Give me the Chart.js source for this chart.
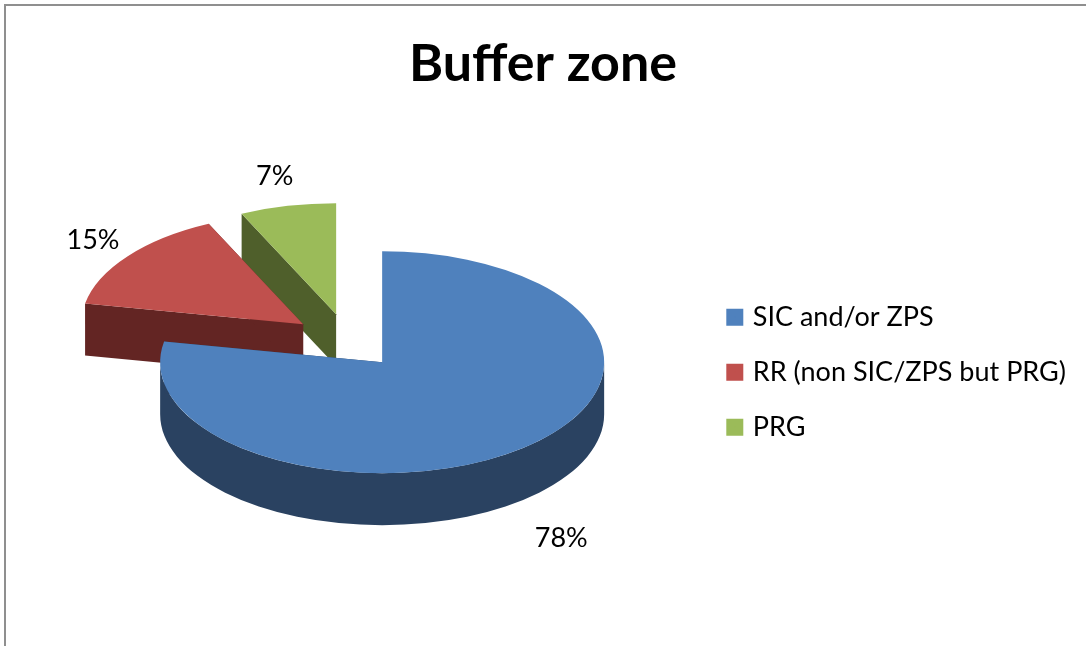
<!DOCTYPE html>
<html>
<head>
<meta charset="utf-8">
<title>Buffer zone</title>
<script src="https://cdn.jsdelivr.net/npm/chart.js@4/dist/chart.umd.js"></script>
<style>
  html, body { margin: 0; padding: 0; background: #fff; overflow: hidden; }
  #frame { position: absolute; left: 4px; top: 4px; right: 0; bottom: 0; border-left: 2px solid #8f8f8f; border-top: 2px solid #8f8f8f; }
  #pie { position: absolute; left: 0; top: 0; }
</style>
</head>
<body>
<div id="frame"></div>
<canvas id="pie" width="1086" height="646"></canvas>
<script>
const titleText = 'Buffer zone'
const sliceLabels = ['SIC and/or ZPS', 'RR (non SIC/ZPS but PRG)', 'PRG']
const sliceValues = [78, 15, 7]
const topColors = ['#4f81bd', '#c0504d', '#9bbb59']
const sideColors = ['#2a4261', '#632523', '#4f5f2b']

// 3d look: flatten the arcs and put dark walls under them, back slice first
const tiltedPie = {
    id: 'tiltedPie',
    beforeDatasetDraw(chart, args, opts) {
        const ctx = chart.ctx
        const arcs = chart.getDatasetMeta(0).data

        const drawWalls = (arc, i) => {
            const cx = arc.x + opts.nudgeX + opts.shiftX[i]
            const cy = arc.y + opts.nudgeY + opts.shiftY[i]
            const rx = arc.outerRadius
            const ry = rx * opts.ratio
            ctx.fillStyle = sideColors[i]

            // rim, only the front half (0..PI) can be seen
            const from = Math.max(arc.startAngle, 0)
            const to = Math.min(arc.endAngle, Math.PI)
            if (to > from) {
                ctx.beginPath()
                ctx.ellipse(cx, cy, rx, ry, 0, from, to)
                ctx.ellipse(cx, cy + opts.depth, rx, ry, 0, to, from, true)
                ctx.closePath()
                ctx.fill()
            }

            // the two cut faces
            ;[arc.startAngle, arc.endAngle].forEach(a => {
                const ex = cx + Math.cos(a) * rx
                const ey = cy + Math.sin(a) * ry
                ctx.beginPath()
                ctx.moveTo(cx, cy)
                ctx.lineTo(ex, ey)
                ctx.lineTo(ex, ey + opts.depth)
                ctx.lineTo(cx, cy + opts.depth)
                ctx.closePath()
                ctx.fill()
            })
        }

        for (let i = arcs.length - 1; i >= 0; i--) {
            const arc = arcs[i]
            drawWalls(arc, i)
            ctx.save()
            ctx.translate(opts.nudgeX + opts.shiftX[i], opts.shiftY[i] + opts.nudgeY + arc.y)
            ctx.scale(1, opts.ratio)
            ctx.translate(0, -arc.y)
            arc.draw(ctx)
            ctx.restore()
        }

        ctx.save()
        ctx.font = opts.labelFont
        ctx.fillStyle = '#000'
        ctx.textAlign = 'center'
        ctx.textBaseline = 'middle'
        arcs.forEach((arc, i) => {
            const mid = (arc.startAngle + arc.endAngle) / 2
            const x = arc.x + opts.nudgeX + opts.shiftX[i] + Math.cos(mid) * opts.labelDist[i]
            const y = arc.y + opts.nudgeY + opts.shiftY[i] + Math.sin(mid) * opts.labelDist[i] * opts.ratio + opts.labelDrop[i]
            ctx.fillText(sliceValues[i] + '%', x, y)
        })
        ctx.restore()
        return false
    }
}

new Chart(document.getElementById('pie'), {
    type: 'pie',
    data: {
        labels: sliceLabels,
        datasets: [{ data: sliceValues, backgroundColor: topColors, borderWidth: 0 }]
    },
    plugins: [tiltedPie],
    options: {
        responsive: false,
        animation: false,
        radius: 222,
        layout: { padding: { left: 10, right: 10, top: 0, bottom: 14 } },
        plugins: {
            title: {
                display: true,
                text: titleText,
                color: '#000',
                font: { family: 'Lato', size: 52, weight: 'bold' },
                padding: { top: 33, bottom: 17 }
            },
            tooltip: { enabled: false },
            legend: {
                position: 'right',
                fullSize: false,
                labels: {
                    color: '#000',
                    font: { family: 'Lato', size: 27 },
                    padding: 28,
                    boxWidth: 9,
                    boxHeight: 9,
                    // thick stroke gets the swatch closer to its text than the default gap
                    generateLabels: () => sliceLabels.map((text, i) => ({
                        text,
                        index: i,
                        fillStyle: topColors[i],
                        strokeStyle: topColors[i],
                        lineWidth: 8,
                        hidden: false
                    }))
                }
            },
            tiltedPie: {
                ratio: 0.5,
                depth: 52,
                nudgeX: 26,
                nudgeY: -10,
                shiftX: [0, -79, -46],
                shiftY: [0, -38, -48],
                labelFont: '27px Lato',
                labelDist: [281, 266, 282],
                labelDrop: [68, -2, 0]
            }
        }
    }
})
</script>
</body>
</html>
